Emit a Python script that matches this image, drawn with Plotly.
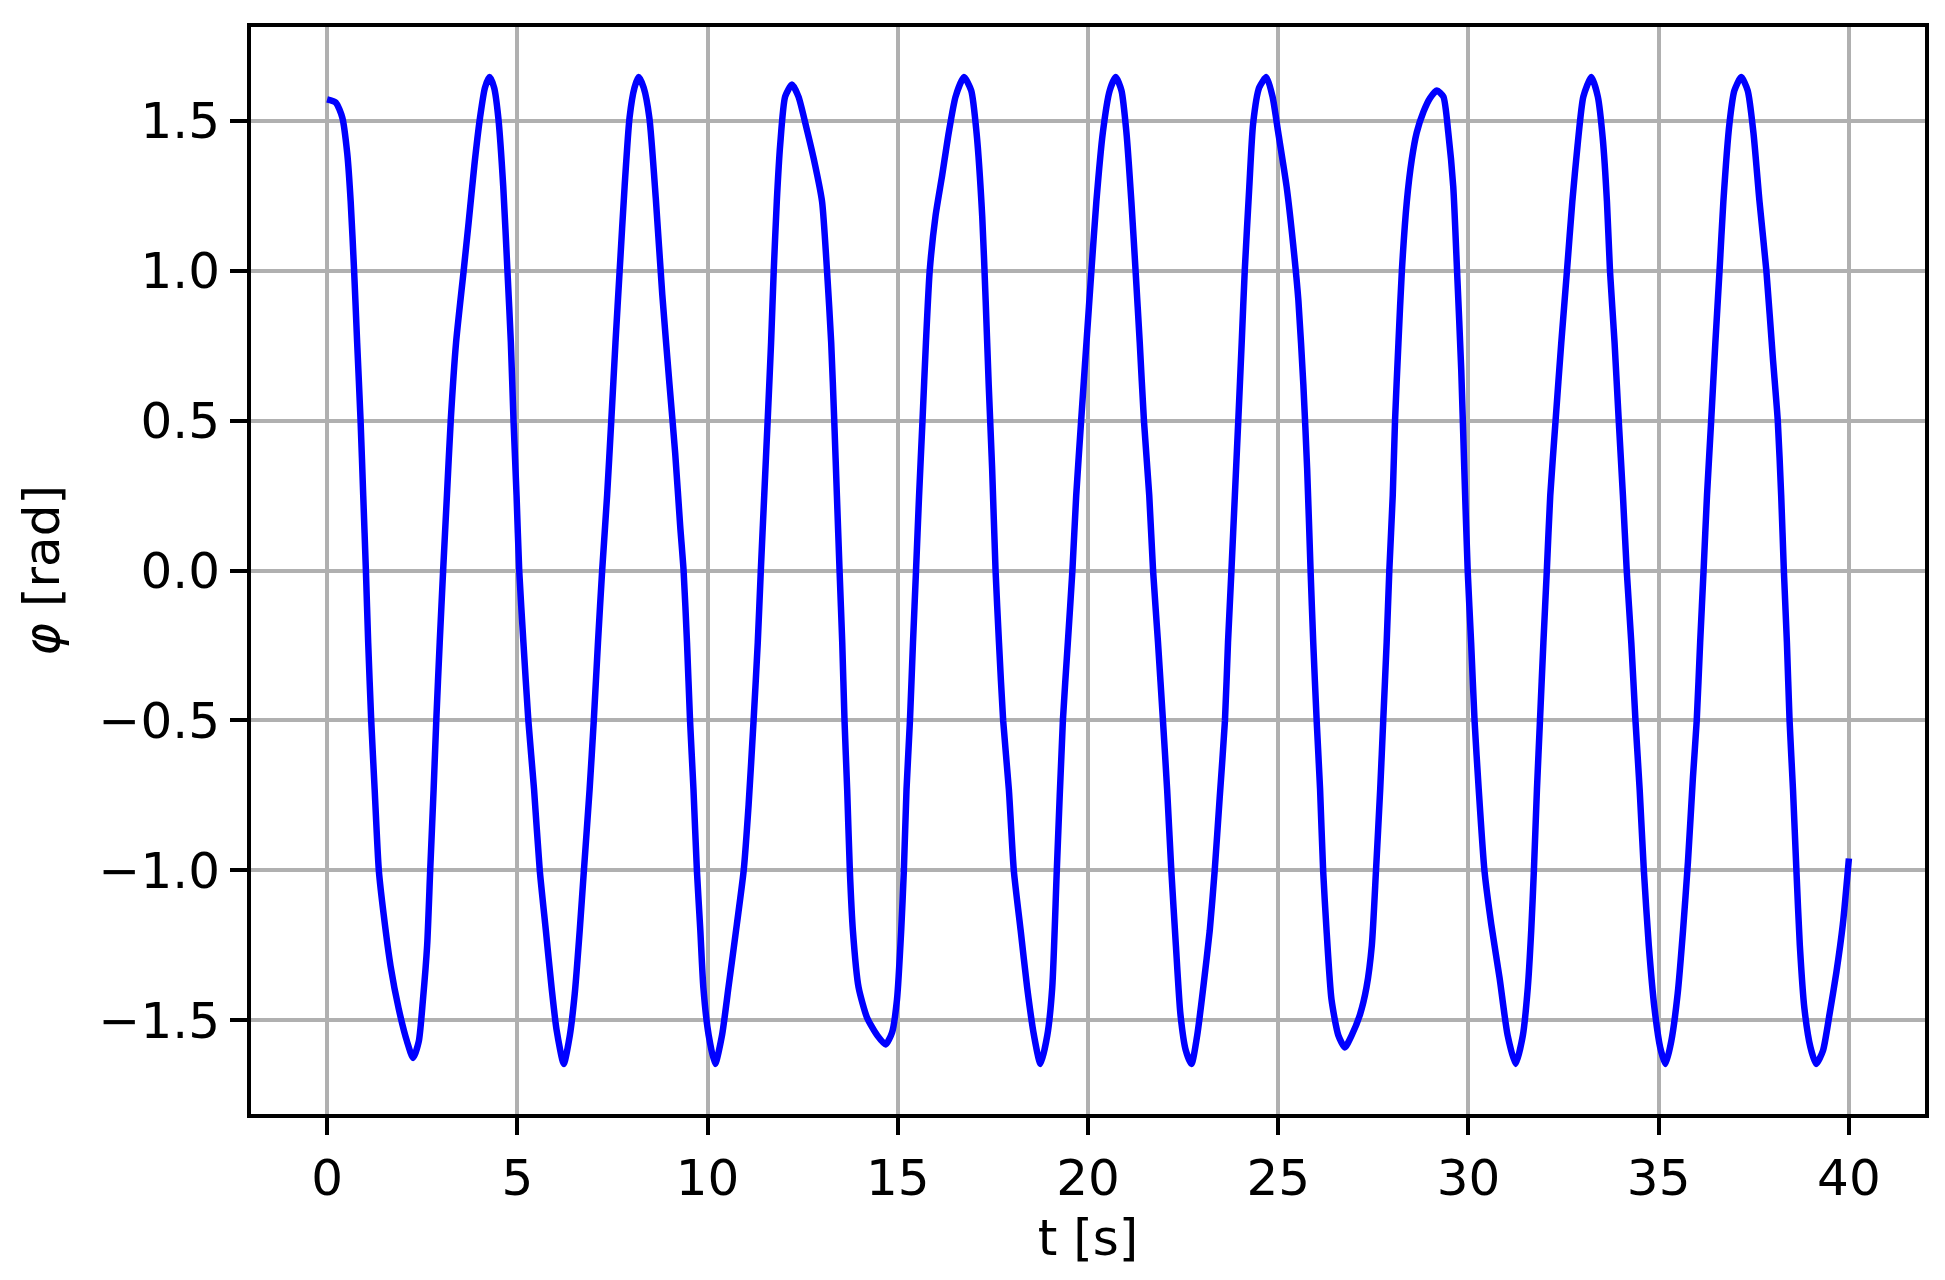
import plotly.graph_objects as go

# time samples [s] and angle [rad]
t = [0.0, 0.23, 0.4, 0.53, 0.62, 0.71, 0.79, 0.88, 0.95, 1.02, 1.08, 1.16, 1.25, 1.36, 1.49, 1.67, 1.88, 2.10, 2.26,
     2.41, 2.52, 2.63, 2.71, 2.80, 2.87, 2.96, 3.05, 3.15, 3.25, 3.39, 3.59, 3.72, 3.87, 4.02, 4.15, 4.27,
     4.39, 4.50, 4.63, 4.74, 4.83, 4.90, 4.98, 5.05, 5.16, 5.29, 5.44, 5.59, 5.75, 5.90, 6.03, 6.22,
     6.38, 6.51, 6.64, 6.75, 6.90, 7.01, 7.12, 7.23, 7.36, 7.47, 7.58, 7.69, 7.82, 7.95, 8.08, 8.19,
     8.32, 8.47, 8.64, 8.81, 9.00, 9.15, 9.28, 9.37, 9.46, 9.54, 9.63, 9.72, 9.81, 9.89, 10.03, 10.2,
     10.38, 10.55, 10.77, 10.95, 11.08, 11.21, 11.32, 11.40, 11.49, 11.58, 11.67, 11.74, 11.82, 11.91, 12.04, 12.22,
     12.39, 12.61, 12.83, 13.01, 13.14, 13.25, 13.33, 13.40, 13.47, 13.54, 13.60, 13.67, 13.74, 13.82, 13.97, 14.19, 14.46, 14.68,
     14.85, 14.98, 15.09, 15.16, 15.23, 15.32, 15.40, 15.48, 15.56, 15.65, 15.74, 15.84, 15.99, 16.17, 16.34, 16.52, 16.74,
     16.93, 17.07, 17.22, 17.31, 17.39, 17.48, 17.57, 17.66, 17.77, 17.92, 18.05, 18.23, 18.40, 18.58, 18.75,
     18.93, 19.06, 19.18, 19.34, 19.47, 19.59, 19.69, 19.82, 19.96, 20.09, 20.22, 20.39, 20.57, 20.73,
     20.88, 21.01, 21.14, 21.25, 21.36, 21.47, 21.61, 21.71, 21.84, 21.97, 22.08, 22.19, 22.31, 22.43, 22.57, 22.72,
     22.87, 23.03, 23.20, 23.33, 23.46, 23.60, 23.68, 23.77, 23.86, 23.95, 24.04, 24.12, 24.24, 24.34, 24.50, 24.69,
     24.85, 25.00, 25.22, 25.39, 25.53, 25.66, 25.76, 25.85, 25.92, 26.01, 26.10, 26.18, 26.27, 26.40, 26.58, 26.75,
     26.93, 27.15, 27.32, 27.46, 27.57, 27.68, 27.76, 27.85, 27.92, 28.01, 28.07, 28.16, 28.25, 28.38, 28.51, 28.64, 28.82, 28.99, 29.17,
     29.34, 29.47, 29.60, 29.70, 29.81, 29.89, 29.98, 30.07, 30.16, 30.27, 30.42, 30.60, 30.82, 31.03, 31.24,
     31.43, 31.56, 31.65, 31.72, 31.80, 31.88, 31.97, 32.06, 32.15, 32.29, 32.44, 32.59, 32.73, 32.87, 33.02, 33.23,
     33.40, 33.53, 33.64, 33.72, 33.84, 33.95, 34.06, 34.16, 34.28, 34.39, 34.50, 34.61, 34.74, 34.89, 35.04, 35.18,
     35.33, 35.50, 35.64, 35.77, 35.90, 36.00, 36.09, 36.18, 36.27, 36.38, 36.49, 36.60, 36.70, 36.86, 36.99, 37.17,
     37.34, 37.49, 37.65, 37.83, 38.00, 38.13, 38.22, 38.29, 38.37, 38.44, 38.53, 38.62, 38.71, 38.83, 38.99, 39.14,
     39.32, 39.49, 39.67, 39.84, 40.0]

phi = [1.571, 1.56, 1.51, 1.39, 1.23, 1.0, 0.76, 0.5, 0.25, 0.0, -0.24, -0.5, -0.73, -1.0, -1.15, -1.32, -1.46, -1.57, -1.625,
       -1.57, -1.43, -1.25, -1.0, -0.73, -0.5, -0.24, 0.0, 0.25, 0.5, 0.76, 1.0, 1.16, 1.35, 1.51, 1.61, 1.645,
       1.61, 1.51, 1.28, 1.0, 0.76, 0.5, 0.25, 0.0, -0.24, -0.5, -0.73, -1.0, -1.2, -1.39, -1.53, -1.645,
       -1.55, -1.41, -1.2, -1.0, -0.73, -0.5, -0.24, 0.0, 0.25, 0.5, 0.76, 1.0, 1.28, 1.51, 1.61, 1.645,
       1.61, 1.51, 1.24, 0.92, 0.62, 0.39, 0.15, 0.0, -0.24, -0.5, -0.73, -1.0, -1.2, -1.39, -1.55, -1.645,
       -1.55, -1.39, -1.18, -1.0, -0.78, -0.5, -0.24, 0.0, 0.25, 0.5, 0.76, 1.0, 1.23, 1.42, 1.58, 1.62,
       1.58, 1.47, 1.35, 1.23, 1.0, 0.76, 0.5, 0.25, 0.0, -0.24, -0.5, -0.73, -1.0, -1.2, -1.39, -1.49, -1.55, -1.58,
       -1.54, -1.43, -1.2, -1.0, -0.73, -0.5, -0.24, 0.0, 0.25, 0.5, 0.76, 1.0, 1.18, 1.32, 1.46, 1.58, 1.645,
       1.60, 1.46, 1.18, 0.90, 0.62, 0.34, 0.0, -0.24, -0.5, -0.73, -1.0, -1.2, -1.39, -1.55, -1.645,
       -1.55, -1.39, -1.0, -0.5, -0.24, 0.0, 0.25, 0.5, 0.76, 1.0, 1.23, 1.46, 1.60, 1.645,
       1.60, 1.46, 1.23, 1.0, 0.76, 0.5, 0.25, 0.0, -0.24, -0.5, -0.73, -1.0, -1.25, -1.48, -1.6, -1.645,
       -1.55, -1.39, -1.2, -1.0, -0.76, -0.5, -0.24, 0.0, 0.25, 0.5, 0.76, 1.0, 1.28, 1.49, 1.61, 1.645,
       1.58, 1.46, 1.28, 1.09, 0.90, 0.62, 0.34, 0.0, -0.24, -0.5, -0.73, -1.0, -1.2, -1.43, -1.55, -1.59,
       -1.55, -1.48, -1.39, -1.25, -1.0, -0.73, -0.5, -0.24, 0.0, 0.25, 0.5, 0.76, 1.0, 1.23, 1.37, 1.46, 1.53, 1.575, 1.60,
       1.58, 1.46, 1.28, 1.0, 0.67, 0.34, 0.0, -0.24, -0.5, -0.73, -1.0, -1.18, -1.36, -1.55, -1.645,
       -1.55, -1.39, -1.2, -1.0, -0.73, -0.5, -0.24, 0.0, 0.25, 0.5, 0.76, 1.0, 1.23, 1.42, 1.58, 1.645,
       1.58, 1.44, 1.23, 1.0, 0.76, 0.5, 0.25, 0.0, -0.24, -0.5, -0.73, -1.0, -1.25, -1.46, -1.59, -1.645,
       -1.57, -1.41, -1.2, -0.97, -0.69, -0.5, -0.24, 0.0, 0.25, 0.5, 0.76, 1.0, 1.23, 1.49, 1.60, 1.645,
       1.60, 1.46, 1.23, 1.0, 0.71, 0.5, 0.25, 0.0, -0.24, -0.5, -0.73, -1.0, -1.25, -1.46, -1.59, -1.645,
       -1.60, -1.48, -1.34, -1.18, -0.96]

x_ticks = [0, 5, 10, 15, 20, 25, 30, 35, 40]
y_ticks = [-1.5, -1.0, -0.5, 0.0, 0.5, 1.0, 1.5]

fig = go.Figure()
fig.add_trace(go.Scatter(x=t, y=phi, mode="lines",
                         line=dict(color="#0000ff", width=6.5, shape="spline", smoothing=0.6),
                         showlegend=False))

axis_style = dict(
    showline=True, linecolor="black", linewidth=4, mirror=True,
    ticks="outside", ticklen=17, tickwidth=4, tickcolor="black",
    showgrid=True, gridcolor="#b0b0b0", gridwidth=4, zeroline=False,
    tickfont=dict(family="DejaVu Sans", size=50, color="black"),
)
title_font = dict(family="DejaVu Sans", size=50, color="black")

fig.update_layout(
    width=1945, height=1280,
    margin=dict(l=251, r=20, t=27, b=166),
    paper_bgcolor="white", plot_bgcolor="white",
    font=dict(family="DejaVu Sans", size=50, color="black"),
    xaxis=dict(range=[-2, 42], tickvals=x_ticks, ticktext=[str(v) for v in x_ticks],
               title=dict(text="t [s]", standoff=15, font=title_font), **axis_style),
    yaxis=dict(range=[-1.812, 1.812], tickvals=y_ticks, tickformat=".1f",
               title=dict(text="<i>φ</i> [rad]", standoff=24, font=title_font), **axis_style),
)

# drop the default 8px page margin so the figure sits at the window origin
fig.write_html("out.html", config={"displayModeBar": False},
               post_script="document.body.style.margin='0';")
